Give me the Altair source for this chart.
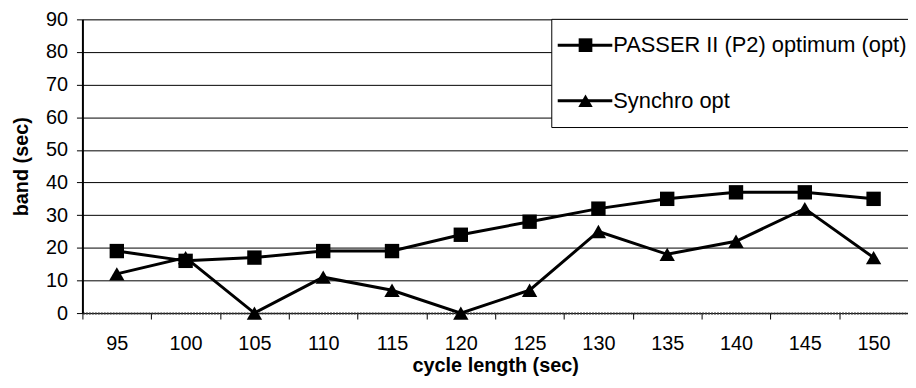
import altair as alt
import pandas as pd

cycles = [95, 100, 105, 110, 115, 120, 125, 130, 135, 140, 145, 150]
passer = [19, 16, 17, 19, 19, 24, 28, 32, 35, 37, 37, 35]
synchro = [12, 17, 0, 11, 7, 0, 7, 25, 18, 22, 32, 17]
series_names = ["PASSER II (P2) optimum (opt)", "Synchro opt"]
y_ticks = [0, 10, 20, 30, 40, 50, 60, 70, 80, 90]

rows = []
for c, p, s in zip(cycles, passer, synchro):
    rows.append({"cycle": c, "series": series_names[0], "band": p})
    rows.append({"cycle": c, "series": series_names[1], "band": s})
df = pd.DataFrame(rows)

FONT = "Liberation Sans"

x = alt.X(
    "cycle:O",
    title="cycle length (sec)",
    bandPosition=0.5,
    scale=alt.Scale(type="band", paddingInner=0, paddingOuter=0),
    axis=alt.Axis(
        tickBand="extent", labelAngle=0, labelFont=FONT, labelFontSize=20,
        labelColor="black", labelPadding=15, tickColor="black", tickSize=6,
        domainColor="#333", domainWidth=2, domainDash=[2, 1],
        titleFont=FONT, titleFontSize=20, titleFontWeight="bold",
        titleColor="black", titlePadding=2, grid=False,
    ),
)
y = alt.Y(
    "band:Q",
    title="band (sec)",
    scale=alt.Scale(domain=[0, 90], nice=False),
    axis=alt.Axis(
        values=y_ticks, grid=True, gridColor="black", gridWidth=1,
        labelFont=FONT, labelFontSize=20, labelColor="black", labelPadding=9,
        tickColor="black", tickSize=6, domainColor="black", domainWidth=2,
        titleFont=FONT, titleFontSize=20, titleFontWeight="bold",
        titleColor="black", titlePadding=14,
    ),
)

base = alt.Chart(df)
lines = base.mark_line(color="black", strokeWidth=3).encode(
    x=x, y=y, detail="series:N"
)
squares = base.transform_filter(
    alt.datum.series == series_names[0]
).mark_point(shape="square", filled=True, color="black", opacity=1, size=210).encode(x=x, y=y)
triangles = base.transform_filter(
    alt.datum.series == series_names[1]
).mark_point(shape="triangle-up", filled=True, color="black", opacity=1, size=240).encode(x=x, y=y)

one = alt.Data(values=[{"k": 1}])
legend_box = alt.Chart(one).mark_rect(fill="white", stroke="black", strokeWidth=1).encode(
    x=alt.value(473), x2=alt.value(834), y=alt.value(0), y2=alt.value(109)
)
legend_layers = [legend_box]
for i, (name, shape, sz) in enumerate(zip(series_names, ["square", "triangle-up"], [190, 210])):
    yy = 26 + i * 56
    legend_layers.append(
        alt.Chart(one).mark_rule(color="black", strokeWidth=3).encode(
            x=alt.value(479), x2=alt.value(534), y=alt.value(yy)
        )
    )
    legend_layers.append(
        alt.Chart(one).mark_point(shape=shape, filled=True, color="black", opacity=1, size=sz).encode(
            x=alt.value(507), y=alt.value(yy)
        )
    )
    legend_layers.append(
        alt.Chart(one).mark_text(
            text=name, align="left", baseline="middle", font=FONT, fontSize=22, color="black"
        ).encode(x=alt.value(535), y=alt.value(yy))
    )

chart = alt.layer(lines, squares, triangles, *legend_layers).properties(
    width=832, height=296,
    autosize=alt.AutoSizeParams(type="none"),
    padding={"left": 75, "top": 10, "right": 0, "bottom": 66},
).configure_view(
    stroke="#777", strokeWidth=1.5, strokeDash=[2, 1]
).configure(background="white")

chart.save("out.html", embed_options={"renderer": "svg", "actions": False})
